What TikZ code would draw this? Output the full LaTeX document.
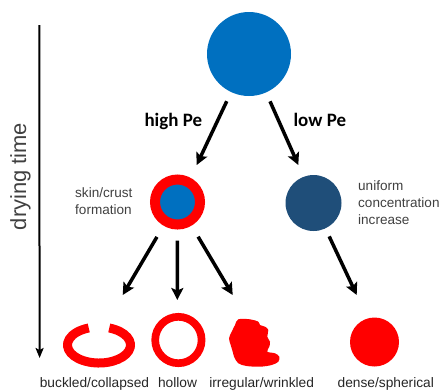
\documentclass[tikz,border=0pt]{standalone}
\usepackage{fontspec}
\setmainfont{Liberation Sans}
\newfontfamily\pefont{Carlito}
\usetikzlibrary{arrows.meta}
\definecolor{topblue}{RGB}{0,112,192}
\definecolor{darkblue}{RGB}{31,78,121}
\definecolor{labelgray}{RGB}{64,64,64}
\definecolor{pered}{RGB}{255,0,0}
\begin{document}
\begin{tikzpicture}[x=1bp,y=-1bp,
  arr/.style={line width=3.5bp, -{Stealth[length=12bp,width=12bp,inset=2.5bp]}},
  lbl/.style={font=\fontsize{13.6}{16.7}\selectfont, text=labelgray, align=left, inner sep=0},
  bot/.style={font=\fontsize{13.8}{16}\selectfont, text=black!85, inner sep=0, anchor=base},
  pe/.style={font=\pefont\bfseries\fontsize{19}{22}\selectfont, inner sep=0, anchor=base},
  disc/.style={circle, inner sep=0}]
\useasboundingbox (0,0) rectangle (439,389);

% time axis
\coordinate (tstart) at (39.3,25);
\coordinate (tend) at (39.6,358);
\draw[line width=2bp, -{Stealth[length=10bp,width=8bp,inset=2bp]}] (tstart) -- (tend);
\node[rotate=90, font=\fontsize{22}{26}\selectfont, text=labelgray, inner sep=0] (dt) at (20.5,176.5) {drying time};

% droplets
\node[disc, fill=topblue, minimum size=84bp] (top) at (249,54) {};
\node[disc, fill=topblue, draw=pered, line width=10bp, minimum size=45bp] (skin) at (177.5,202) {};
\node[disc, fill=darkblue, minimum size=56bp] (dark) at (313.5,203) {};

% labels
\node[pe] (hipe) at (173.3,126.5) {high Pe};
\node[pe] (lope) at (319.8,126.5) {low Pe};
\node[lbl, anchor=west] (skinlbl) at (75,201) {skin/crust\\formation};
\node[lbl, anchor=west] (unilbl) at (358,202.7) {uniform\\concentration\\increase};

% arrow tips
\coordinate (tL) at (196.7,165);
\coordinate (tR) at (298.3,165);
\coordinate (tA) at (122.7,295);
\coordinate (tB) at (177.3,300);
\coordinate (tC) at (232.7,295);
\coordinate (tD) at (356.7,295);

\draw[arr, shorten <=10bp] (top) -- (tL);
\draw[arr, shorten <=9.6bp] (top) -- (tR);
\draw[arr, shorten <=13bp] (skin) -- (tA);
\draw[arr, shorten <=11bp] (skin) -- (tB);
\draw[arr, shorten <=12.8bp] (skin) -- (tC);
\draw[arr, shorten <=8.7bp] (dark) -- (tD);

% final morphologies
\coordinate (bk) at (99,345);
\draw[pered, line width=9bp] (bk) ++(-71:31.5 and 18)
  arc[start angle=-71, end angle=251, x radius=31.5, y radius=18];
\node[disc, draw=pered, line width=7.7bp, minimum size=46.4bp] (hollow) at (178.4,340) {};
\coordinate (irr) at (252,343);
\fill[pered] plot[smooth cycle, tension=0.55] coordinates {
  (238.3,319.3) (250,319.3) (258.3,321.7) (260,325) (265,326.7) (268.3,330)
  (267.3,336.7) (270,341.7) (269.3,346.7) (267.3,351.7) (275,353.3) (279.3,356.7)
  (278.3,361.7) (271.7,365) (260,366.7) (246.7,366) (238.3,363.3) (234,356.7)
  (232.7,351.7) (230.7,345) (229,338.3) (231.7,331.7) (235,325)};
\node[disc, fill=pered, minimum size=49bp] (dense) at (374.5,342) {};

% bottom labels
\node[bot] (l1) at (94.5,387.5) {buckled/collapsed};
\node[bot] (l2) at (177.5,387.5) {hollow};
\node[bot] (l3) at (261.7,387.5) {irregular/wrinkled};
\node[bot] (l4) at (385.8,387.5) {dense/spherical};
\end{tikzpicture}
\end{document}
